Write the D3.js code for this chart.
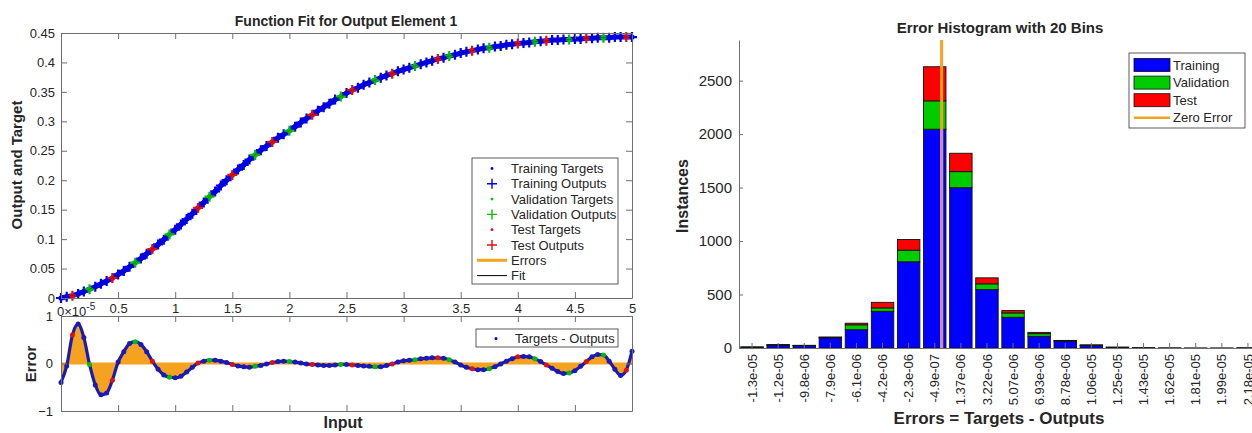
<!DOCTYPE html>
<html>
<head>
<meta charset="utf-8">
<script src="https://cdn.jsdelivr.net/npm/d3@7"></script>
<style>
body { margin: 0; background: #fff; }
svg text { font-family: "Liberation Sans", Arial, sans-serif; fill: #262626; }
</style>
</head>
<body>
<svg id="chart" width="1252" height="433"></svg>
<script>
// ---- data: function fit (input step 0.05, x10^-5) ----
const inputStep = 0.05;
const fitValues = [
  0.000, 0.002, 0.004, 0.007, 0.011, 0.015, 0.019, 0.024, 0.029, 0.034,
  0.040, 0.046, 0.053, 0.060, 0.067, 0.075, 0.083, 0.091, 0.099, 0.108,
  0.116, 0.125, 0.134, 0.143, 0.153, 0.162, 0.172, 0.181, 0.191, 0.200,
  0.209, 0.218, 0.226, 0.235, 0.243, 0.251, 0.258, 0.265, 0.272, 0.278,
  0.284, 0.291, 0.298, 0.305, 0.311, 0.318, 0.324, 0.330, 0.337, 0.342,
  0.348, 0.353, 0.357, 0.362, 0.366, 0.370, 0.374, 0.378, 0.381, 0.385,
  0.388, 0.391, 0.394, 0.397, 0.400, 0.403, 0.406, 0.408, 0.411, 0.413,
  0.416, 0.418, 0.420, 0.422, 0.424, 0.425, 0.427, 0.428, 0.430, 0.431,
  0.432, 0.433, 0.434, 0.435, 0.436, 0.437, 0.438, 0.438, 0.439, 0.439,
  0.440, 0.440, 0.441, 0.441, 0.442, 0.442, 0.442, 0.443, 0.443, 0.443,
  0.443
];
const errorValues = [
  -0.40, -0.05, 0.60, 0.83, 0.55, -0.02, -0.45, -0.66, -0.62, -0.35,
  0.03, 0.25, 0.42, 0.46, 0.40, 0.25, 0.05, -0.12, -0.24, -0.29,
  -0.30, -0.27, -0.18, -0.08, 0.01, 0.05, 0.07, 0.07, 0.05, 0.02,
  -0.02, -0.05, -0.07, -0.08, -0.06, -0.04, -0.01, 0.02, 0.04, 0.05,
  0.04, 0.03, 0.01, -0.01, -0.02, -0.03, -0.04, -0.04, -0.03, -0.02,
  -0.02, -0.03, -0.04, -0.05, -0.06, -0.07, -0.07, -0.04, -0.01, 0.03,
  0.06, 0.07, 0.08, 0.10, 0.11, 0.12, 0.12, 0.11, 0.08, 0.03,
  -0.03, -0.08, -0.11, -0.13, -0.13, -0.11, -0.07, -0.01, 0.05, 0.10,
  0.14, 0.15, 0.14, 0.10, 0.04, -0.03, -0.10, -0.17, -0.21, -0.20,
  -0.15, -0.06, 0.04, 0.14, 0.19, 0.18, 0.05, -0.12, -0.25, -0.14,
  0.26
];
// T = training, V = validation, E = test
const groupPattern = "TTETTVTTTETTTVTTETTVTTTTETVTTTETTTVTTETTVTTTETTTTVTETTTVTTETTTVTTTETVTTTETTVTTTTETTVTETTTVTTETTVTTTET";
const xTicks = [0, 0.5, 1, 1.5, 2, 2.5, 3, 3.5, 4, 4.5, 5];
const fitTicks = [0, 0.05, 0.1, 0.15, 0.2, 0.25, 0.3, 0.35, 0.4, 0.45];
const errTicks = [-1, 0, 1];

// ---- data: error histogram ----
const binLabels = ["-1.3e-05", "-1.2e-05", "-9.8e-06", "-7.9e-06", "-6.1e-06", "-4.2e-06", "-2.3e-06",
  "-4.9e-07", "1.37e-06", "3.22e-06", "5.07e-06", "6.93e-06", "8.78e-06", "1.06e-05", "1.25e-05",
  "1.43e-05", "1.62e-05", "1.81e-05", "1.99e-05", "2.18e-05"];
const trainCounts = [9, 29, 23, 95, 171, 343, 806, 2046, 1499, 546, 287, 109, 65, 26, 7, 4, 2, 1, 1, 3];
const valCounts   = [1, 1, 1, 4, 46, 32, 109, 265, 150, 54, 41, 25, 3, 1, 1, 0, 0, 0, 0, 0];
const testCounts  = [0, 1, 1, 4, 15, 52, 100, 319, 172, 56, 22, 12, 3, 1, 0, 0, 0, 0, 0, 0];
const histTicks = [0, 500, 1000, 1500, 2000, 2500];

const colors = { T: "#0000f0", V: "#00c000", E: "#e01010" };
const orange = "#f5a21e";
const axisGray = "#6e6e6e";

const svg = d3.select("#chart");

function styleAxis(g) {
  g.select(".domain").attr("stroke", axisGray);
  g.selectAll(".tick line").attr("stroke", axisGray);
  g.selectAll(".tick text").style("font-size", "13px").attr("fill", "#262626");
}

// ================= function fit plot =================
const x = d3.scaleLinear().domain([0, 5]).range([61, 632]);
const yFit = d3.scaleLinear().domain([0, 0.45]).range([298, 33]);
const yErr = d3.scaleLinear().domain([-1, 1]).range([411, 316]);

const points = fitValues.map((v, i) => ({
  x: i * inputStep, fit: v, err: errorValues[i],
  g: groupPattern[i % groupPattern.length]
}));
const order = { T: 0, V: 1, E: 2 };
const sorted = points.slice().sort((a, b) => order[a.g] - order[b.g]);

const fitG = svg.append("g");
fitG.append("rect").attr("x", 61).attr("y", 33).attr("width", 571).attr("height", 265).attr("fill", "#fff");

// fit line (mostly hidden under the dense markers)
fitG.append("path")
  .datum(points)
  .attr("fill", "none").attr("stroke", colors.T).attr("stroke-width", 5)
  .attr("d", d3.line().x(d => x(d.x)).y(d => yFit(d.fit)));

// outputs (+) and targets (.)
fitG.selectAll(".plus").data(sorted).enter().append("path")
  .attr("d", d => {
    const px = x(d.x), py = yFit(d.fit);
    return `M${px - 5},${py}H${px + 5}M${px},${py - 5}V${py + 5}`;
  })
  .attr("stroke", d => colors[d.g]).attr("stroke-width", 2.2).attr("fill", "none");
fitG.selectAll(".tdot").data(sorted).enter().append("circle")
  .attr("cx", d => x(d.x)).attr("cy", d => yFit(d.fit)).attr("r", 2.6)
  .attr("fill", d => colors[d.g]);
fitG.append("path")
  .datum(points)
  .attr("fill", "none").attr("stroke", "#000").attr("stroke-width", 0.6).attr("stroke-opacity", 0.5)
  .attr("d", d3.line().x(d => x(d.x)).y(d => yFit(d.fit)));

// axes of top plot
fitG.append("g").attr("transform", "translate(0,298)")
  .call(d3.axisBottom(x).tickValues(xTicks).tickSizeInner(-6).tickSizeOuter(0).tickPadding(6)
    .tickFormat(d => d === 0 ? "" : d3.format("")(d)))
  .call(styleAxis);
fitG.append("g").attr("transform", "translate(0,33)")
  .call(d3.axisTop(x).tickValues(xTicks).tickSizeInner(-6).tickSizeOuter(0).tickFormat(""))
  .call(styleAxis);
fitG.append("g").attr("transform", "translate(61,0)")
  .call(d3.axisLeft(yFit).tickValues(fitTicks).tickSizeInner(-6).tickSizeOuter(0).tickPadding(6)
    .tickFormat(d => d3.format("")(+d.toFixed(2))))
  .call(styleAxis);
fitG.append("g").attr("transform", "translate(632,0)")
  .call(d3.axisRight(yFit).tickValues(fitTicks).tickSizeInner(-6).tickSizeOuter(0).tickFormat(""))
  .call(styleAxis);

// "0 x10^-5" label
const expLabel = fitG.append("text").attr("x", 57).attr("y", 316).style("font-size", "13px");
expLabel.append("tspan").text("0");
expLabel.append("tspan").text("\u00d710");
expLabel.append("tspan").attr("dy", -6).style("font-size", "10px").text("-5");

fitG.append("text").attr("x", 346).attr("y", 26).attr("text-anchor", "middle")
  .style("font-size", "14px").style("font-weight", "bold").text("Function Fit for Output Element 1");
fitG.append("text").attr("transform", "translate(22,165) rotate(-90)").attr("text-anchor", "middle")
  .style("font-size", "15px").style("font-weight", "bold").text("Output and Target");

// legend of top plot
const fitLegend = [
  { label: "Training Targets", type: "dot", c: colors.T },
  { label: "Training Outputs", type: "plus", c: colors.T },
  { label: "Validation Targets", type: "dot", c: colors.V },
  { label: "Validation Outputs", type: "plus", c: colors.V },
  { label: "Test Targets", type: "dot", c: colors.E },
  { label: "Test Outputs", type: "plus", c: colors.E },
  { label: "Errors", type: "line", c: orange, w: 3 },
  { label: "Fit", type: "line", c: "#000", w: 1 }
];
const lg = fitG.append("g");
lg.append("rect").attr("x", 472).attr("y", 158).attr("width", 146).attr("height", 126)
  .attr("fill", "#fff").attr("stroke", "#333").attr("stroke-width", 0.8);
fitLegend.forEach((d, i) => {
  const cy = 168.5 + i * 15.3;
  if (d.type === "dot") {
    lg.append("circle").attr("cx", 492).attr("cy", cy).attr("r", 1.4).attr("fill", d.c);
  } else if (d.type === "plus") {
    lg.append("path").attr("d", `M487,${cy}H497M492,${cy - 5}V${cy + 5}`)
      .attr("stroke", d.c).attr("stroke-width", 1.4);
  } else {
    lg.append("line").attr("x1", 477).attr("x2", 507).attr("y1", cy).attr("y2", cy)
      .attr("stroke", d.c).attr("stroke-width", d.w);
  }
  lg.append("text").attr("x", 511).attr("y", cy).attr("dy", "0.35em")
    .style("font-size", "13px").text(d.label);
});

// ================= error plot =================
const errG = svg.append("g");
errG.append("rect").attr("x", 61).attr("y", 316).attr("width", 571).attr("height", 95).attr("fill", "#fff");
errG.append("path").datum(points)
  .attr("fill", orange)
  .attr("d", d3.area().x(d => x(d.x)).y0(yErr(0)).y1(d => yErr(d.err)));
errG.append("line").attr("x1", x(0)).attr("x2", x(5)).attr("y1", yErr(0)).attr("y2", yErr(0))
  .attr("stroke", orange).attr("stroke-width", 2);
// dense "Targets - Outputs" dots
errG.append("path").datum(points)
  .attr("fill", "none").attr("stroke", "#1a1ab4").attr("stroke-width", 3.2)
  .attr("d", d3.line().curve(d3.curveMonotoneX).x(d => x(d.x)).y(d => yErr(d.err)));
errG.selectAll(".edot").data(sorted).enter().append("circle")
  .attr("cx", d => x(d.x)).attr("cy", d => yErr(d.err)).attr("r", 2.5)
  .attr("fill", d => d.g === "T" ? "#1a1ab4" : colors[d.g]);

errG.append("g").attr("transform", "translate(0,411)")
  .call(d3.axisBottom(x).tickValues(xTicks).tickSizeInner(-6).tickSizeOuter(0).tickFormat(""))
  .call(styleAxis);
errG.append("g").attr("transform", "translate(0,316)")
  .call(d3.axisTop(x).tickValues(xTicks).tickSizeInner(-6).tickSizeOuter(0).tickFormat(""))
  .call(styleAxis);
errG.append("g").attr("transform", "translate(61,0)")
  .call(d3.axisLeft(yErr).tickValues(errTicks).tickSizeInner(-6).tickSizeOuter(0).tickPadding(8)
    .tickFormat(d3.format("d")))
  .call(styleAxis);
errG.append("g").attr("transform", "translate(632,0)")
  .call(d3.axisRight(yErr).tickValues(errTicks).tickSizeInner(-6).tickSizeOuter(0).tickFormat(""))
  .call(styleAxis);

errG.append("rect").attr("x", 476).attr("y", 329).attr("width", 142).attr("height", 18)
  .attr("fill", "#fff").attr("stroke", "#333").attr("stroke-width", 0.8);
errG.append("circle").attr("cx", 496).attr("cy", 338.5).attr("r", 1.5).attr("fill", colors.T);
errG.append("text").attr("x", 515).attr("y", 338.5).attr("dy", "0.35em")
  .style("font-size", "13px").text("Targets - Outputs");

errG.append("text").attr("transform", "translate(36,364) rotate(-90)").attr("text-anchor", "middle")
  .style("font-size", "15px").style("font-weight", "bold").text("Error");
errG.append("text").attr("x", 343).attr("y", 428).attr("text-anchor", "middle")
  .style("font-size", "16px").style("font-weight", "bold").text("Input");

// ================= error histogram =================
const hx = d3.scaleBand().domain(binLabels).range([739, 1261]).paddingInner(0.14).paddingOuter(0.07);
const hy = d3.scaleLinear().domain([0, 2880]).range([348, 40]);
const bw = hx.bandwidth();

const rows = binLabels.map((b, i) => ({ bin: b, train: trainCounts[i], val: valCounts[i], test: testCounts[i] }));
const series = d3.stack().keys(["train", "val", "test"])(rows);
const histColors = { train: "#0000ff", val: "#00cc00", test: "#ff0000" };

const hist = svg.append("g");
hist.selectAll(".layer").data(series).enter().append("g")
  .attr("fill", d => histColors[d.key])
  .selectAll("rect").data(d => d).enter().append("rect")
  .attr("x", d => hx(d.data.bin)).attr("width", bw)
  .attr("y", d => hy(d[1])).attr("height", d => hy(d[0]) - hy(d[1]))
  .attr("stroke", "#111").attr("stroke-width", 0.9);

// zero error line
const ex = d3.scaleLinear()
  .domain([+binLabels[7], +binLabels[19]])
  .range([hx(binLabels[7]) + bw / 2, hx(binLabels[19]) + bw / 2]);
hist.append("line").attr("x1", ex(0)).attr("x2", ex(0)).attr("y1", hy.range()[1]).attr("y2", hy(0))
  .attr("stroke", orange).attr("stroke-width", 3);
hist.append("line").attr("x1", ex(0)).attr("x2", ex(0)).attr("y1", hy(trainCounts[7])).attr("y2", hy(0))
  .attr("stroke", "#d0909a").attr("stroke-width", 3);

// axes
const hxAxis = hist.append("g").attr("transform", "translate(0,348)")
  .call(d3.axisBottom(hx).tickSizeInner(-5).tickSizeOuter(0))
  .call(styleAxis);
hxAxis.selectAll(".tick text")
  .attr("x", -6).attr("y", 0).attr("dy", "0.35em")
  .attr("transform", "rotate(-90)").style("text-anchor", "end");
hist.append("g").attr("transform", "translate(739,0)")
  .call(d3.axisLeft(hy).tickValues(histTicks).tickSizeInner(-4).tickSizeOuter(0).tickPadding(7)
    .tickFormat(d3.format("d")))
  .call(styleAxis)
  .selectAll(".tick text").style("font-size", "15px");

hist.append("text").attr("x", 1000).attr("y", 33).attr("text-anchor", "middle")
  .style("font-size", "15px").style("font-weight", "bold").text("Error Histogram with 20 Bins");
hist.append("text").attr("transform", "translate(688,196) rotate(-90)").attr("text-anchor", "middle")
  .style("font-size", "16px").style("font-weight", "bold").text("Instances");
hist.append("text").attr("x", 999).attr("y", 424).attr("text-anchor", "middle")
  .style("font-size", "17px").style("font-weight", "bold").text("Errors = Targets - Outputs");

// legend
const histLegend = [
  { label: "Training", key: "train" },
  { label: "Validation", key: "val" },
  { label: "Test", key: "test" },
  { label: "Zero Error", key: "zero" }
];
const hl = hist.append("g");
hl.append("rect").attr("x", 1129).attr("y", 53).attr("width", 116).attr("height", 75)
  .attr("fill", "#fff").attr("stroke", "#333").attr("stroke-width", 0.8);
histLegend.forEach((d, i) => {
  const cy = 65 + i * 17.6;
  if (d.key === "zero") {
    hl.append("line").attr("x1", 1134).attr("x2", 1170).attr("y1", cy).attr("y2", cy)
      .attr("stroke", orange).attr("stroke-width", 2.5);
  } else {
    hl.append("rect").attr("x", 1134).attr("y", cy - 6.5).attr("width", 36).attr("height", 13)
      .attr("fill", histColors[d.key]).attr("stroke", "#111").attr("stroke-width", 0.8);
  }
  hl.append("text").attr("x", 1173).attr("y", cy).attr("dy", "0.35em")
    .style("font-size", "13px").text(d.label);
});
</script>
</body>
</html>
